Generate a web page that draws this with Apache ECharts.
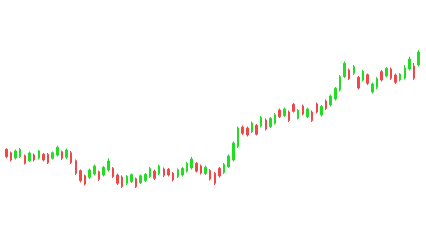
<!DOCTYPE html>
<html>
<head>
<meta charset="utf-8">
<script src="https://cdn.jsdelivr.net/npm/echarts@6/dist/echarts.min.js"></script>
<style>html,body{margin:0;padding:0;background:#fff;}#chart{width:426px;height:240px;}</style>
</head>
<body>
<div id="chart"></div>
<script>
// Each candle: [open, close, low, high]
const opens = [90.7,87.3,82,83.3,84.3,79.3,85,82,85.7,85.7,81.7,85,88.3,82.7,87.3,79.3,69.3,64.3,62.7,66,
  68.3,65,70,71.7,65,63,56.7,58.3,61.2,57.2,59.5,63.3,69,66.2,71,70.7,66.7,63.3,65,69,
  72,76.7,74,66.5,69.5,66.7,71.7,67.5,73.3,80,93.3,113,112,108.3,114.7,114,120,113.3,116.7,130,
  124.5,128,135.5,121.7,134,123.3,128,136,125,139,135,141,150,163.3,170,166.7,162.7,160,165.3,148,
  152.7,168.3,164,171,165,160,162,171,174,175];
const closes = [83.3,80,89,90.7,76.7,87,80,89,80,77.3,87.3,92.7,81.7,90,77.3,66.7,59.3,56,70,74,
  60.7,72.7,79,63.3,56.7,53.5,63.8,65.3,53.3,64.2,65.7,71.7,61.7,74,64.7,65,60,70.3,71.7,76.5,
  81,68.8,67,72.8,61,56.7,64,75.5,84,97,112,106.7,105,117,105.7,122.5,111,121.7,125.3,123.3,
  131,119.5,128.7,129.7,126,131,119.5,128,133.5,131.5,144,151.7,163.3,176.7,161.3,173.3,152,168.7,156.7,156,
  161.3,160,171.7,161.7,157.7,165.7,172,181,161.7,188];
const lows = [81.7,78.5,80.5,82,75.5,78,78.5,80.5,78.5,76,80.5,83.5,80,81,76,65,57.5,54.5,61,64.5,
  59,63.5,68.3,62,55,52,55,57,52,56,58,62,60,65,63,63.5,58.5,62,63.5,67.5,
  70.5,67.5,65.5,65,59.5,55,62.5,66,72,78.5,92,105,103.5,107,104.5,112.5,109.5,112,115.5,122,
  123,118,127.5,120.5,124.5,122,118,126.5,123.5,130,133.5,139.5,148.5,162,160,165,150.5,158.5,155,146.5,
  151,158.5,162.5,160,156,158.5,160.5,169.5,160,173.5];
const highs = [91.7,88.5,90.5,92,85.5,88.5,86.5,90,87,87,88.5,94.5,89.5,91.5,89,80.5,70.5,65.5,71.5,75.5,
  69.5,74,81.7,73,66.5,64.5,65,66.5,62.5,65.5,67,73,70.5,75.5,72.5,72,68,71.5,73,78,
  83,78,75.5,74.5,71,68,73,77,85.5,98.5,113.5,114.5,113.5,118.5,116,124,121.5,123,127,131.5,
  132.5,129.5,137,131,135.5,132.5,129.5,137.5,135,140.5,145.5,153,165,178.5,171.5,175,164,170,166.5,157.5,
  163,170,173,172.5,166.5,167,175,183.3,177,190];
const categories = opens.map((_, i) => 'D' + (i + 1));

const data = opens.map((o, i) => [o, closes[i], lows[i], highs[i]]);

const chart = echarts.init(document.getElementById('chart'), null, {renderer: 'canvas'});
chart.setOption({
  animation: false,
  backgroundColor: '#ffffff',
  grid: {left: 4, right: 5, top: 0, bottom: 0},
  xAxis: {type: 'category', data: categories, show: false, boundaryGap: true},
  yAxis: {type: 'value', min: 0, max: 240, show: false, splitLine: {show: false}},
  series: [{
    type: 'candlestick',
    data: data,
    barWidth: 2,
    itemStyle: {
      color: '#22dd22',
      color0: '#f04848',
      borderColor: '#22dd22',
      borderColor0: '#f04848',
      borderWidth: 1
    }
  }]
});
</script>
</body>
</html>
